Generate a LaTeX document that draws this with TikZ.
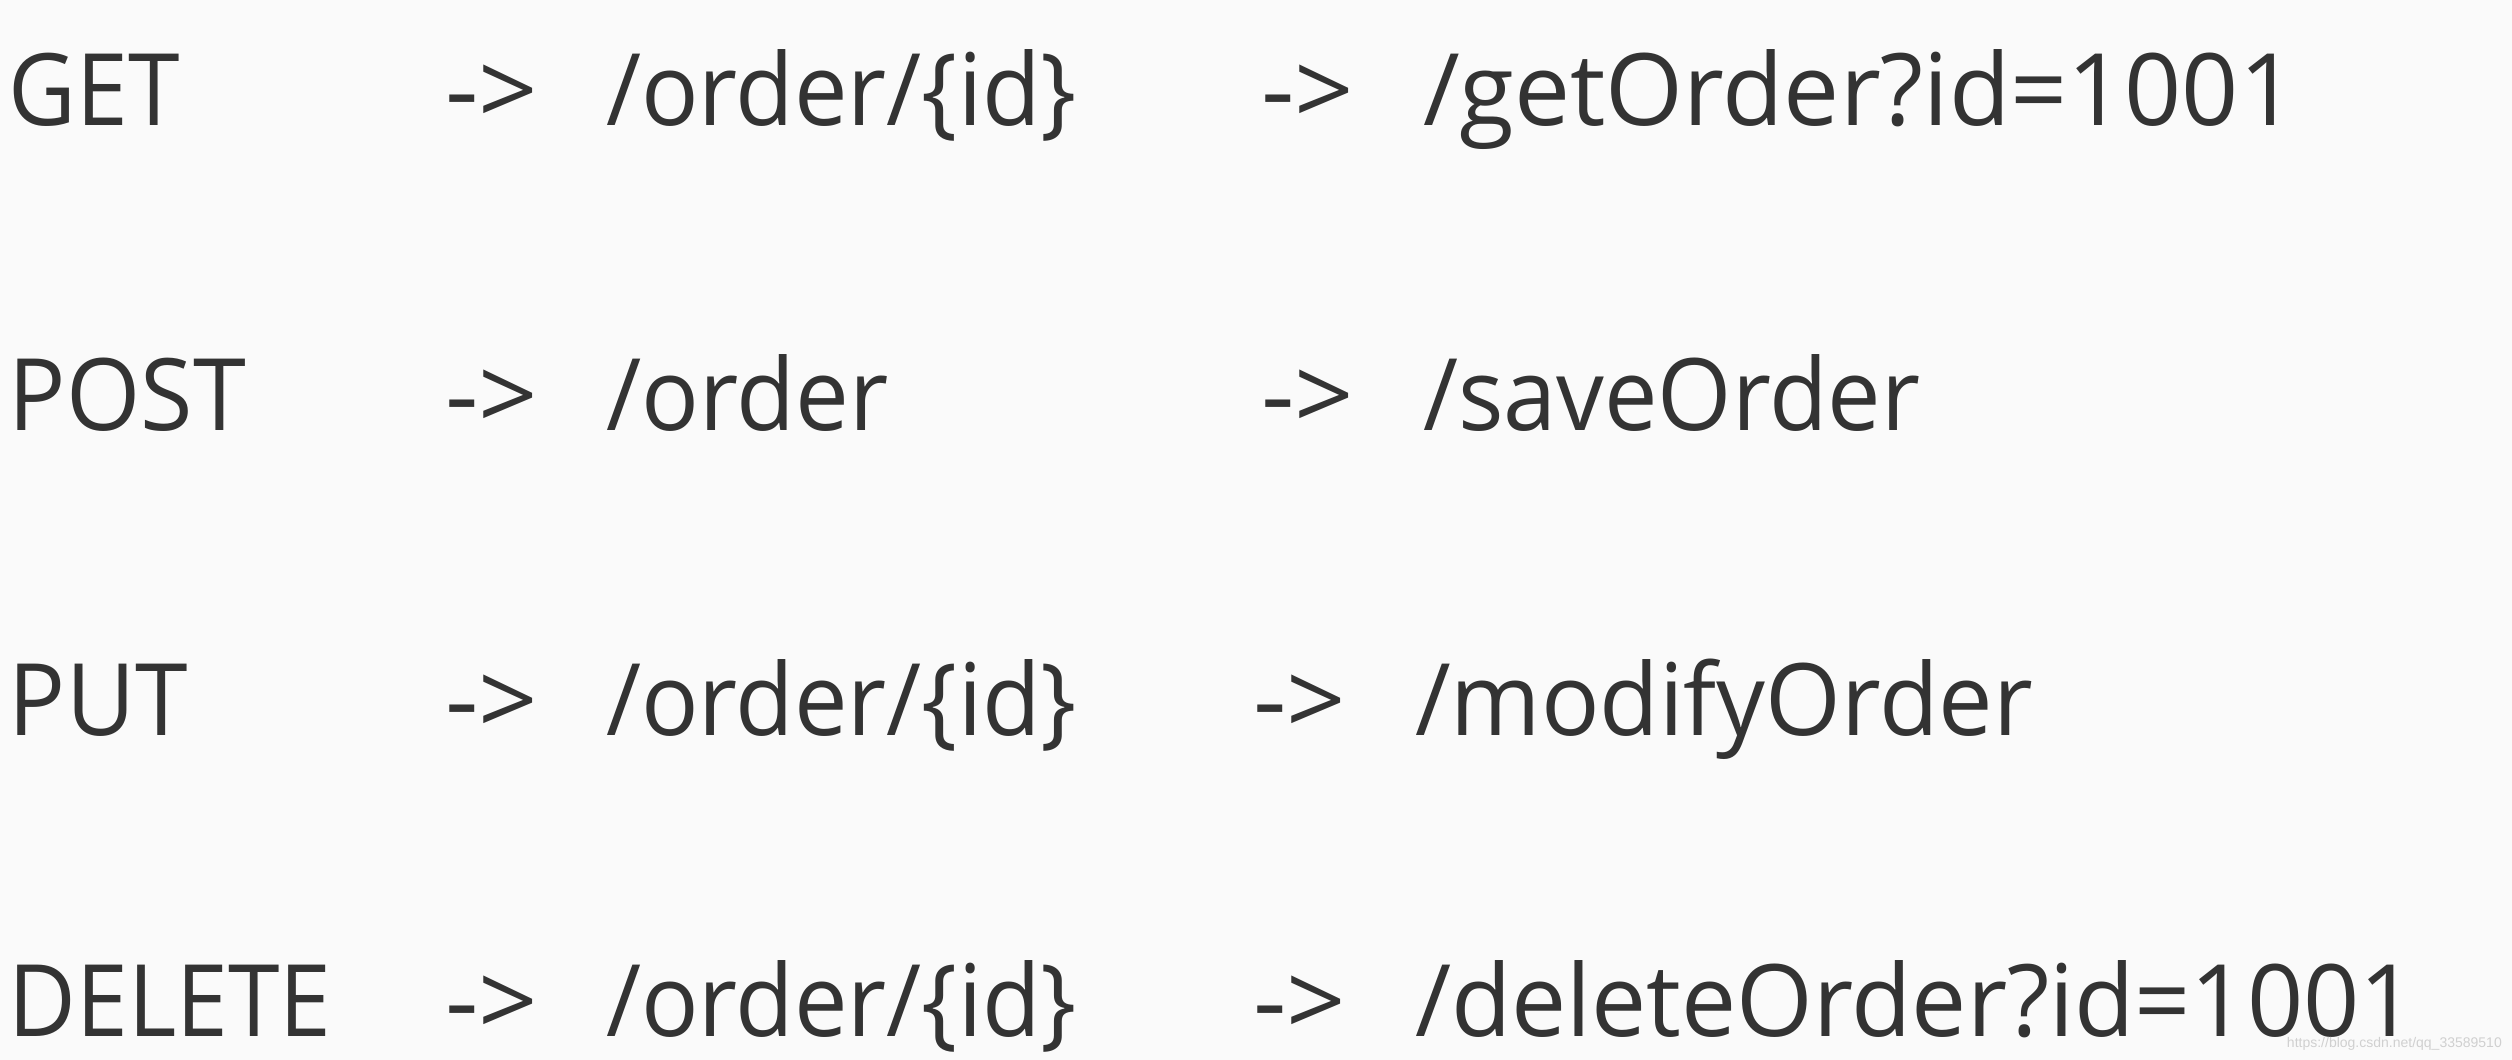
\documentclass[tikz,border=0pt]{standalone}
\usepackage{fontspec}
\usepackage{graphicx}
\setmainfont{Open Sans}
\newfontfamily\wmfont{Liberation Sans}
\definecolor{ink}{HTML}{333333}
\definecolor{bg}{HTML}{FAFAFA}
\definecolor{wm}{HTML}{D0D0D0}
\newcommand{\sx}[2]{\scalebox{#1}[1]{#2}}
\begin{document}
\begin{tikzpicture}[x=1pt,y=-1pt,
  tok/.style={anchor=base west,inner sep=0pt,outer sep=0pt,text=ink,font=\fontsize{100}{120}\selectfont}]
\fill[bg] (0,0) rectangle (2512,1060);
\useasboundingbox (0,0) rectangle (2512,1060);
% row 1
\node[tok] (m1) at (9,125) {\sx{0.93}{GET}};
\node[tok] (a1) at (445,125) {\sx{1.04}{->}};
\node[tok] (p1) at (606,125) {\sx{0.955}{/order/\{id\}}};
\node[tok] (b1) at (1261,125) {\sx{1.04}{->}};
\node[tok] (r1) at (1423,125) {/getOrder?id=1001};
% row 2
\node[tok] (m2) at (9,430) {\sx{0.954}{POST}};
\node[tok] (a2) at (445,430) {\sx{1.04}{->}};
\node[tok] (p2) at (606,430) {\sx{0.96}{/order}};
\node[tok] (b2) at (1261,430) {\sx{1.04}{->}};
\node[tok] (r2) at (1423,430) {\sx{0.954}{/saveOrder}};
% row 3
\node[tok] (m3) at (9,735) {\sx{0.948}{PUT}};
\node[tok] (a3) at (445,735) {\sx{1.04}{->}};
\node[tok] (p3) at (606,735) {\sx{0.955}{/order/\{id\}}};
\node[tok] (b3) at (1253,735) {\sx{1.04}{->}};
\node[tok] (r3) at (1415,735) {\sx{0.972}{/modifyOrder}};
% row 4
\node[tok] (m4) at (9,1036) {\sx{0.93}{DELETE}};
\node[tok] (a4) at (445,1036) {\sx{1.04}{->}};
\node[tok] (p4) at (606,1036) {\sx{0.955}{/order/\{id\}}};
\node[tok] (b4) at (1253,1036) {\sx{1.04}{->}};
\node[tok] (r4) at (1415,1036) {\sx{0.984}{/deleteOrder?id=1001}};
\node[anchor=base east,inner sep=0pt,text=wm,font=\wmfont\fontsize{14}{16}\selectfont] (w) at (2502,1047) {https://blog.csdn.net/qq\_33589510};
\end{tikzpicture}
\end{document}
